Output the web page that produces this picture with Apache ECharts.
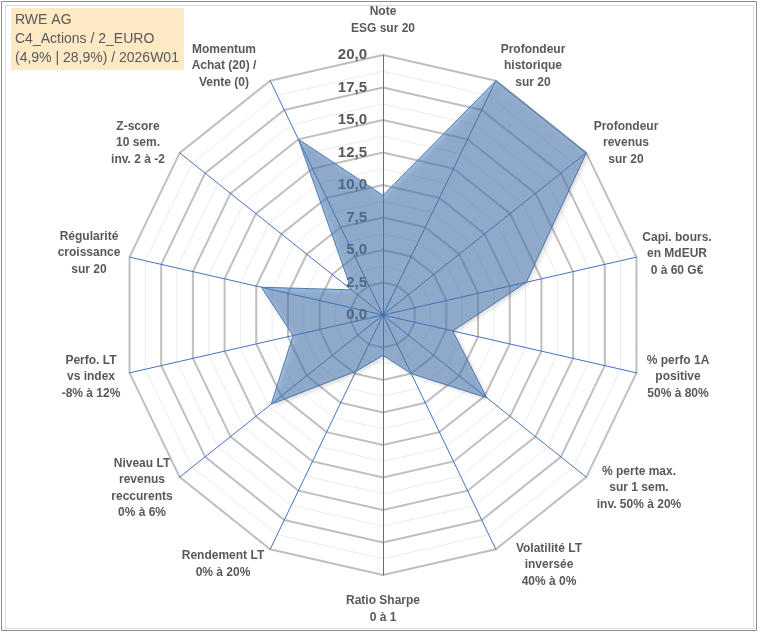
<!DOCTYPE html>
<html>
<head>
<meta charset="utf-8">
<script src="https://cdn.jsdelivr.net/npm/echarts@6/dist/echarts.min.js"></script>
<style>
  html, body { margin:0; padding:0; background:#fff; }
  #chart { width:760px; height:633px; }
</style>
</head>
<body>
<div id="chart"></div>
<script>
// axes, clockwise from the top
var axes = [
  'Note\nESG sur 20',
  'Profondeur\nhistorique\nsur 20',
  'Profondeur\nrevenus\nsur 20',
  'Capi. bours.\nen MdEUR\n0 à 60 G€',
  '% perfo 1A\npositive\n50% à 80%',
  '% perte max.\nsur 1 sem.\ninv. 50% à 20%',
  'Volatilité LT\ninversée\n40% à 0%',
  'Ratio Sharpe\n0 à 1',
  'Rendement LT\n0% à 20%',
  'Niveau LT\nrevenus\nreccurents\n0% à 6%',
  'Perfo. LT\nvs index\n-8% à 12%',
  'Régularité\ncroissance\nsur 20',
  'Z-score\n10 sem.\ninv. 2 à -2',
  'Momentum\nAchat (20) /\nVente (0)'
];
var scores = [9.2, 20, 20, 11.3, 5.5, 10.2, 5.0, 3.1, 4.8, 11.0, 7.1, 9.6, 3.1, 15.0];
var titleLines = ['RWE AG', 'C4_Actions / 2_EURO', '(4,9% | 28,9%) / 2026W01'];
var axisMax = 20;

// where the axis names sit (centre of each text block), same order as axes
var namePos = [
  [383, 20], [533, 66], [626, 143], [677, 254], [678, 377], [639, 488], [549, 565],
  [383, 609], [223, 564], [142, 488], [91, 377], [89, 253], [138, 143], [224, 66]
];

// echarts lays the indicators out counter-clockwise, so keep the first and reverse the rest
var order = [0];
for (var i = axes.length - 1; i > 0; i--) order.push(i);

var indicators = order.map(function (k, j) {
  var ind = { name: axes[k], min: 0, max: axisMax };
  if (j === 0) ind.axisLabel = { show: true };
  return ind;
});
var minorIndicators = order.map(function () { return { name: '', min: 0, max: axisMax }; });
var values = order.map(function (k) { return scores[k]; });

var graphics = [
  { type: 'rect', shape: { x: 1.5, y: 1.5, width: 755, height: 629 }, style: { fill: 'none', stroke: '#8C8C8C', lineWidth: 1 }, silent: true, z: -1 },
  { type: 'rect', shape: { x: 5.5, y: 5.5, width: 748, height: 623 }, style: { fill: 'none', stroke: '#D9D9D9', lineWidth: 1 }, silent: true, z: -1 }
];
axes.forEach(function (name, k) {
  graphics.push({
    type: 'text', x: namePos[k][0], y: namePos[k][1], silent: true,
    style: {
      text: name, align: 'center', verticalAlign: 'middle',
      fill: '#595959', font: 'bold 12px "Liberation Sans"', lineHeight: 16.5
    }
  });
});

var chart = echarts.init(document.getElementById('chart'));
var option = {
  animation: false,
  title: {
    text: titleLines.join('\n'),
    left: 11, top: 8,
    padding: [3, 5, 2, 4],
    backgroundColor: '#FDE9C4',
    textStyle: { fontFamily: 'Liberation Sans', fontSize: 14, fontWeight: 'normal', color: '#595959', lineHeight: 19 }
  },
  graphic: graphics,
  radar: [
    {
      // minor rings
      center: [383, 315], radius: 260, shape: 'polygon', splitNumber: 16,
      indicator: minorIndicators,
      axisName: { show: false },
      axisLine: { show: false },
      splitLine: { lineStyle: { color: '#EBEBEB', width: 1 } },
      splitArea: { show: false },
      axisLabel: { show: false }
    },
    {
      center: [383, 315], radius: 260, shape: 'polygon', splitNumber: 8,
      indicator: indicators,
      axisName: { show: false },
      axisLine: { lineStyle: { color: '#4472C4', width: 1 } },
      splitLine: { lineStyle: { color: '#BFBFBF', width: 2 } },
      splitArea: { show: false },
      axisTick: { show: false },
      axisLabel: {
        show: false, margin: 16, color: '#595959', fontFamily: 'Liberation Sans', fontSize: 15, fontWeight: 'bold',
        formatter: function (v) { return v.toFixed(1).replace('.', ','); }
      }
    }
  ],
  series: [{
    type: 'radar',
    radarIndex: 1,
    symbol: 'none',
    lineStyle: { color: '#4F81BD', width: 1 },
    areaStyle: { color: 'rgba(79,129,189,0.76)', shadowColor: 'rgba(0,0,0,0.3)', shadowBlur: 4, shadowOffsetX: 2, shadowOffsetY: 2 },
    data: [{ value: values, name: 'RWE AG' }]
  }]
};
chart.setOption(option);
</script>
</body>
</html>
